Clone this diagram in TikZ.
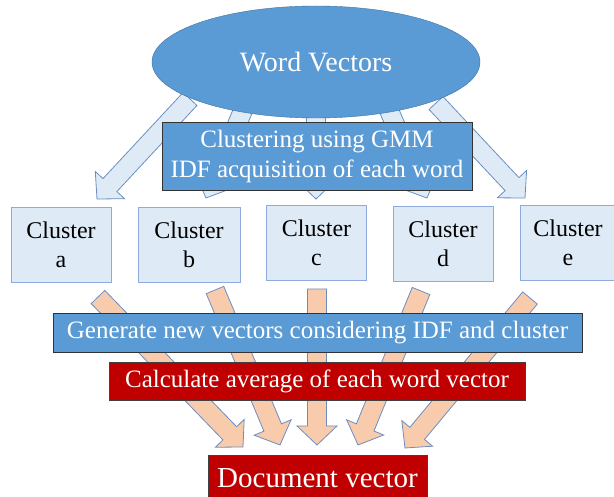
\documentclass[tikz,border=0pt]{standalone}
\usepackage{fontspec}
\setmainfont{Liberation Serif}
\usetikzlibrary{calc, shapes.geometric}

\definecolor{wvblue}{HTML}{5B9BD5}
\definecolor{wvedge}{HTML}{41719C}
\definecolor{cllight}{HTML}{DEEBF7}
\definecolor{cledge}{HTML}{8FAADC}
\definecolor{arredge}{HTML}{6C8EBF}
\definecolor{peach}{HTML}{F8CBAD}
\definecolor{darkred}{HTML}{C00000}

% broad arrow from #2 (tail) to #3 (tip)
\newcommand{\fatarrow}[3][]{%
	\coordinate (fa-base) at ($(#3)!19pt!(#2)$);
	\draw[#1] ($(#2)!9.5pt!90:(#3)$) -- ($(fa-base)!9.5pt!90:(#3)$) -- ($(fa-base)!20pt!90:(#3)$)
		-- (#3) -- ($(fa-base)!20pt!-90:(#3)$) -- ($(fa-base)!9.5pt!-90:(#3)$) -- ($(#2)!9.5pt!-90:(#3)$) -- cycle;
}

\begin{document}
\begin{tikzpicture}[x=1pt, y=-1pt,
	bluearrow/.style={draw=arredge, fill=cllight, line width=0.8pt},
	peacharrow/.style={draw=arredge, fill=peach, line width=0.8pt},
	bluebox/.style={draw=black!80, fill=wvblue, text=white, align=center, inner sep=0pt, font=\fontsize{25}{30}\selectfont},
	redbox/.style={draw=black!75, fill=darkred, text=white, align=center, inner sep=0pt, font=\fontsize{25}{30}\selectfont},
	clusterbox/.style={draw=cledge, fill=cllight, align=center, inner sep=0pt, minimum height=75, font=\fontsize{24}{29}\selectfont}]
	\useasboundingbox (0,0) rectangle (614,497);

	% word vectors to the clusters
	\foreach \l/\sx/\sy/\ex/\ey in {a/190/99/97/199, b/244/108/206/198, c/316/110/316/199, d/388/108/427/198, e/436/103/525/198}{
		\coordinate (wv\l) at (\sx,\sy);
		\coordinate (in\l) at (\ex,\ey);
		\fatarrow[bluearrow]{wv\l}{in\l}
	}
	\node [ellipse, draw=wvedge, fill=wvblue, text=white, inner sep=0pt, minimum width=328, minimum height=112,
		font=\fontsize{28}{32}\selectfont] (wv) at (316,62) {Word Vectors};
	\node [bluebox, minimum width=310, minimum height=68] (gmm) at (317,156) {Clustering using GMM\\IDF acquisition of each word};

	\foreach \l/\x/\y/\w in {a/61/244.5/100, b/189/244.5/102, c/316.5/243/100, d/443/244/100, e/568/242.5/96}{
		\node [clusterbox, minimum width=\w] (cl\l) at (\x,\y) {Cluster\\\l};
	}

	% clusters to the document vector
	\foreach \l/\sx/\sy/\ex/\ey in {a/98/297/243/447, b/215/290/280/445, c/317/289/317/445, d/421/291/358/445, e/530/298/405/448}{
		\coordinate (out\l) at (\sx,\sy);
		\coordinate (dv\l) at (\ex,\ey);
		\fatarrow[peacharrow]{out\l}{dv\l}
	}
	\node [bluebox, minimum width=529, minimum height=39] (gen) at (317.5,332.5) {Generate new vectors considering IDF and cluster};
	\node [redbox, minimum width=416, minimum height=38] (avg) at (317,381) {Calculate average of each word vector};
	\node [redbox, minimum width=219, minimum height=47, font=\fontsize{29}{34}\selectfont] (doc) at (317.5,478.5) {Document vector};
\end{tikzpicture}
\end{document}
